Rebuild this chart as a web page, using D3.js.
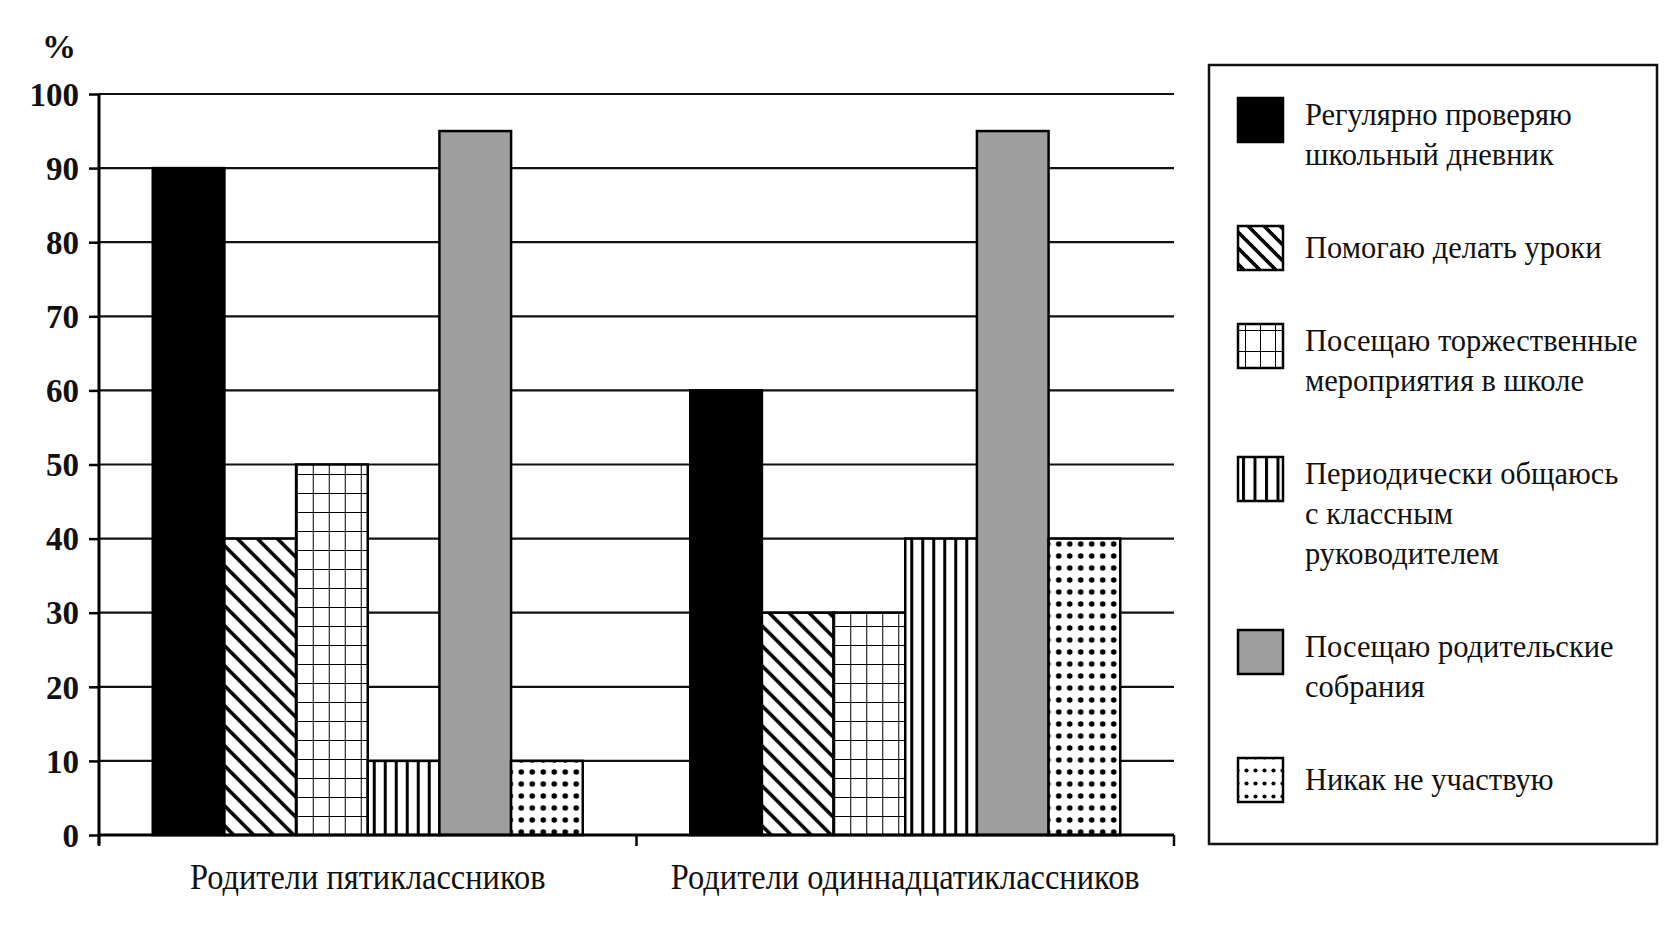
<!DOCTYPE html>
<html>
<head>
<meta charset="utf-8">
<script src="https://cdn.jsdelivr.net/npm/d3@7"></script>
<style>
    body { margin: 0; background: #fff; }
    svg { display: block; }
    text { font-family: "Liberation Serif", "DejaVu Serif", serif; fill: #111; }
</style>
</head>
<body>
<div id="chart"></div>
<script>
// data
let categories = ["Родители пятиклассников", "Родители одиннадцатиклассников"];
let seriesNames = [
    ["Регулярно проверяю", "школьный дневник"],
    ["Помогаю делать уроки"],
    ["Посещаю торжественные", "мероприятия в школе"],
    ["Периодически общаюсь", "с классным", "руководителем"],
    ["Посещаю родительские", "собрания"],
    ["Никак не участвую"]
];
let fifthGrade = [90, 40, 50, 10, 95, 10];
let eleventhGrade = [60, 30, 30, 40, 95, 40];
let yTicks = [0, 10, 20, 30, 40, 50, 60, 70, 80, 90, 100];

let margin = { top: 94, left: 99, right: 498, bottom: 106 };
let totalWidth = 1672, totalHeight = 941;
let width = totalWidth - margin.left - margin.right;
let height = totalHeight - margin.top - margin.bottom;

let fills = ["#000", "url(#hatch)", "url(#grid)", "url(#vlines)", "#9e9e9e", "url(#dots)"];
let legendFills = ["#000", "url(#hatchL)", "url(#gridL)", "url(#vlinesL)", "#9e9e9e", "url(#dotsL)"];

let rows = categories.map((c, i) => ({
    name: c,
    values: (i === 0 ? fifthGrade : eleventhGrade)
}));

let svg = d3.select("#chart").append("svg")
    .attr("width", totalWidth)
    .attr("height", totalHeight);

// patterns
let defs = svg.append("defs");

function hatch(id, size, sw) {
    let p = defs.append("pattern").attr("id", id)
        .attr("patternUnits", "userSpaceOnUse")
        .attr("width", size).attr("height", size);
    p.append("rect").attr("width", size).attr("height", size).attr("fill", "#fff");
    p.append("path")
        .attr("d", `M0,0L${size},${size}M${-size/2},${size/2}L${size/2},${size*1.5}M${size/2},${-size/2}L${size*1.5},${size/2}`)
        .attr("stroke", "#000").attr("stroke-width", sw);
}
function grid(id, w, h, sw) {
    let p = defs.append("pattern").attr("id", id)
        .attr("patternUnits", "userSpaceOnUse")
        .attr("width", w).attr("height", h);
    p.append("rect").attr("width", w).attr("height", h).attr("fill", "#fff");
    p.append("path").attr("d", `M0,0H${w}M0,0V${h}`)
        .attr("stroke", "#000").attr("stroke-width", sw);
}
function vlines(id, w, sw) {
    let p = defs.append("pattern").attr("id", id)
        .attr("patternUnits", "userSpaceOnUse")
        .attr("width", w).attr("height", 10);
    p.append("rect").attr("width", w).attr("height", 10).attr("fill", "#fff");
    p.append("rect").attr("width", sw).attr("height", 10).attr("fill", "#000");
}
function dots(id, w, h, r) {
    let p = defs.append("pattern").attr("id", id)
        .attr("patternUnits", "userSpaceOnUse")
        .attr("width", w).attr("height", h);
    p.append("rect").attr("width", w).attr("height", h).attr("fill", "#fff");
    p.append("circle").attr("cx", w / 2).attr("cy", h / 2).attr("r", r).attr("fill", "#000");
}
hatch("hatch", 20, 3.6);
grid("grid", 16, 19, 2);
vlines("vlines", 11, 3);
dots("dots", 11, 12, 2.8);
hatch("hatchL", 16, 3.6);
grid("gridL", 15, 21, 2);
vlines("vlinesL", 11.5, 3);
dots("dotsL", 9, 13, 2.1);

let g = svg.append("g")
    .attr("transform", "translate(" + margin.left + "," + margin.top + ")");

let x0 = d3.scaleBand()
    .domain(categories)
    .range([0, width])
    .paddingInner(0.2)
    .paddingOuter(0.1);

let x1 = d3.scaleBand()
    .domain(d3.range(seriesNames.length))
    .range([0, x0.bandwidth()]);

let y = d3.scaleLinear()
    .domain([0, 100])
    .range([height, 0]);

// gridlines
g.append("g").selectAll("line")
    .data(yTicks.filter(d => d > 0))
    .enter().append("line")
    .attr("x1", 0).attr("x2", width)
    .attr("y1", d => y(d)).attr("y2", d => y(d))
    .attr("stroke", "#111").attr("stroke-width", 2.2);

// bars
let groups = g.selectAll(".group")
    .data(rows)
    .enter().append("g")
    .attr("class", "group")
    .attr("transform", d => "translate(" + x0(d.name) + ",0)");

groups.selectAll("rect")
    .data(d => d.values.map((v, i) => ({ i: i, v: v })))
    .enter().append("rect")
    .attr("x", d => x1(d.i))
    .attr("y", d => y(d.v))
    .attr("width", x1.bandwidth())
    .attr("height", d => y(0) - y(d.v))
    .attr("fill", d => fills[d.i])
    .attr("stroke", "#000")
    .attr("stroke-width", 2.5);

// axes
let yAxis = d3.axisLeft(y).tickValues(yTicks).tickSize(10).tickPadding(10);
let yAxisGroup = g.append("g").call(yAxis);
yAxisGroup.select(".domain").attr("stroke-width", 3).attr("d", "M0," + (height + 10) + "V0");
yAxisGroup.selectAll(".tick line").attr("stroke-width", 2.5);
yAxisGroup.selectAll("text")
    .style("font-size", "33px")
    .style("font-weight", "bold")
    .attr("dy", "0.34em")
    .attr("fill", "#111");

let xAxis = d3.axisBottom(x0).tickSize(0).tickPadding(0);
let xAxisGroup = g.append("g")
    .attr("transform", "translate(0," + height + ")")
    .call(xAxis);
xAxisGroup.select(".domain").attr("stroke-width", 3).attr("d", "M0,0H" + width);
xAxisGroup.selectAll("text")
    .attr("y", 54)
    .attr("dy", 0)
    .style("font-size", "36px")
    .attr("fill", "#111")
    .each(function() {
        let len = this.getComputedTextLength();
        d3.select(this)
            .attr("textLength", len * 0.9)
            .attr("lengthAdjust", "spacingAndGlyphs");
    });

// category boundary ticks
g.append("g").selectAll("line")
    .data([0, x0.step(), width])
    .enter().append("line")
    .attr("x1", d => d).attr("x2", d => d)
    .attr("y1", height).attr("y2", height + 11)
    .attr("stroke", "#000").attr("stroke-width", 2.5);

// unit label
svg.append("text")
    .attr("x", 59).attr("y", 58)
    .attr("text-anchor", "middle")
    .style("font-size", "34px")
    .style("font-weight", "bold")
    .text("%");

// legend
let legend = svg.append("g");
legend.append("rect")
    .attr("x", 1209).attr("y", 65)
    .attr("width", 448).attr("height", 779)
    .attr("fill", "#fff")
    .attr("stroke", "#111")
    .attr("stroke-width", 2.5);

let lineH = 40, gap = 93, baseY = 125;
let starts = [];
seriesNames.reduce((acc, lines) => { starts.push(acc); return acc + (lines.length - 1) * lineH + gap; }, baseY);

let items = legend.selectAll(".item")
    .data(seriesNames)
    .enter().append("g")
    .attr("class", "item")
    .attr("transform", (d, i) => "translate(0," + starts[i] + ")");

items.append("rect")
    .attr("x", 1238).attr("y", (d, i) => d.length === 1 ? -32 : -27)
    .attr("width", 45).attr("height", 44)
    .attr("fill", (d, i) => legendFills[i])
    .attr("stroke", "#000")
    .attr("stroke-width", 2.5);

items.append("text")
    .attr("x", 1305)
    .style("font-size", "30.5px")
    .selectAll("tspan")
    .data(d => d)
    .enter().append("tspan")
    .attr("x", 1305)
    .attr("y", (d, i) => i * lineH)
    .text(d => d);
</script>
</body>
</html>
